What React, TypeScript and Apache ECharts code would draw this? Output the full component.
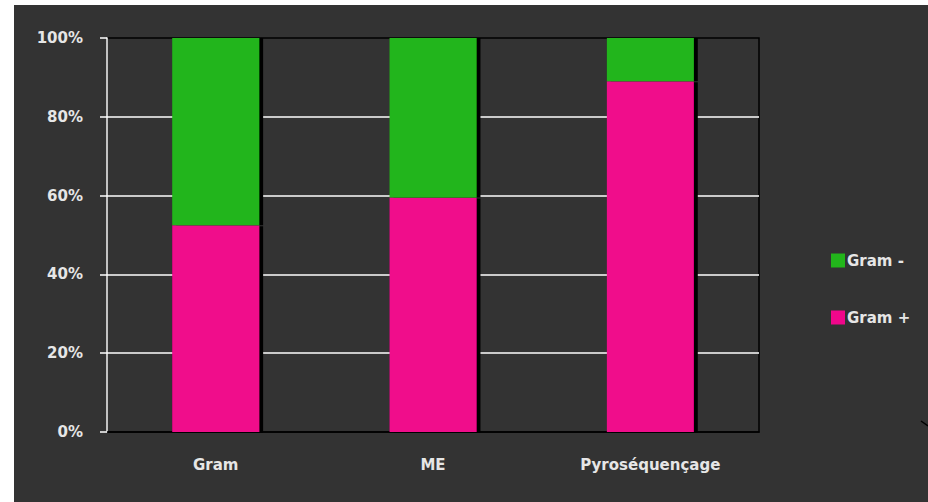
import React, { useEffect, useRef } from "react";
import * as echarts from "echarts";

const categories = ["Gram", "ME", "Pyroséquençage"];
const gramPositive = [52.5, 59.5, 89];
const gramNegative = [47.5, 40.5, 11];
const yTicks = [0, 20, 40, 60, 80, 100];

const FONT = "'DejaVu Sans', 'Open Sans', sans-serif";
const PINK = "#f0078b";
const GREEN = "#22b51b";
const TEXT = "#e6e6e6";

export default function App() {
  const ref = useRef<HTMLDivElement>(null);

  useEffect(() => {
    if (!ref.current) return;
    const chart = echarts.init(ref.current, null, { renderer: "svg" });
    chart.setOption({
      animation: false,
      backgroundColor: "#ffffff",
      graphic: [
        {
          type: "rect",
          z: -10,
          silent: true,
          shape: { x: 14, y: 5, width: 914, height: 497 },
          style: { fill: "#333333" },
        },
        {
          type: "line",
          silent: true,
          shape: { x1: 921, y1: 421, x2: 928, y2: 426 },
          style: { stroke: "#000", lineWidth: 1.5 },
        },
      ],
      grid: {
        left: 107,
        right: 169,
        top: 38,
        bottom: 70,
        show: true,
        backgroundColor: "#333333",
        borderColor: "#000000",
        borderWidth: 1.5,
      },
      legend: {
        orient: "vertical",
        left: 826,
        top: 248,
        itemGap: 42,
        itemWidth: 14,
        itemHeight: 14,
        icon: "rect",
        data: ["Gram -", "Gram +"],
        textStyle: {
          color: TEXT,
          fontFamily: FONT,
          fontWeight: "bold",
          fontSize: 15,
          padding: [0, 0, 0, -3],
        },
      },
      xAxis: {
        type: "category",
        data: categories,
        axisLine: { show: true, lineStyle: { color: "#000", width: 1.5 } },
        axisTick: { show: false },
        axisLabel: {
          color: TEXT,
          fontFamily: FONT,
          fontWeight: "bold",
          fontSize: 15,
          margin: 25,
        },
      },
      yAxis: {
        type: "value",
        min: 0,
        max: 100,
        interval: 20,
        axisLine: { show: true, lineStyle: { color: "#ffffff", width: 1.5 } },
        axisTick: { show: true, length: 7, lineStyle: { color: "#ffffff", width: 1.5 } },
        axisLabel: {
          color: TEXT,
          fontFamily: FONT,
          fontWeight: "bold",
          fontSize: 15,
          margin: 24,
          formatter: (v: number) => (yTicks.includes(v) ? `${v}%` : ""),
        },
        splitLine: {
          show: true,
          showMinLine: false,
          showMaxLine: false,
          lineStyle: { color: "#ffffff", width: 1.5 },
        },
      },
      series: [
        {
          name: "Gram +",
          type: "bar",
          stack: "total",
          data: gramPositive,
          barWidth: "40%",
          itemStyle: {
            color: PINK,
            shadowColor: "#000",
            shadowOffsetX: 4,
            shadowOffsetY: 1,
            shadowBlur: 0,
          },
        },
        {
          name: "Gram -",
          type: "bar",
          stack: "total",
          data: gramNegative,
          barWidth: "40%",
          itemStyle: {
            color: GREEN,
            shadowColor: "#000",
            shadowOffsetX: 4,
            shadowOffsetY: 0,
            shadowBlur: 0,
          },
        },
      ],
    });
    return () => chart.dispose();
  }, []);

  return (
    <div
      ref={ref}
      style={{ position: "fixed", left: 0, top: 0, width: 928, height: 502 }}
    />
  );
}
